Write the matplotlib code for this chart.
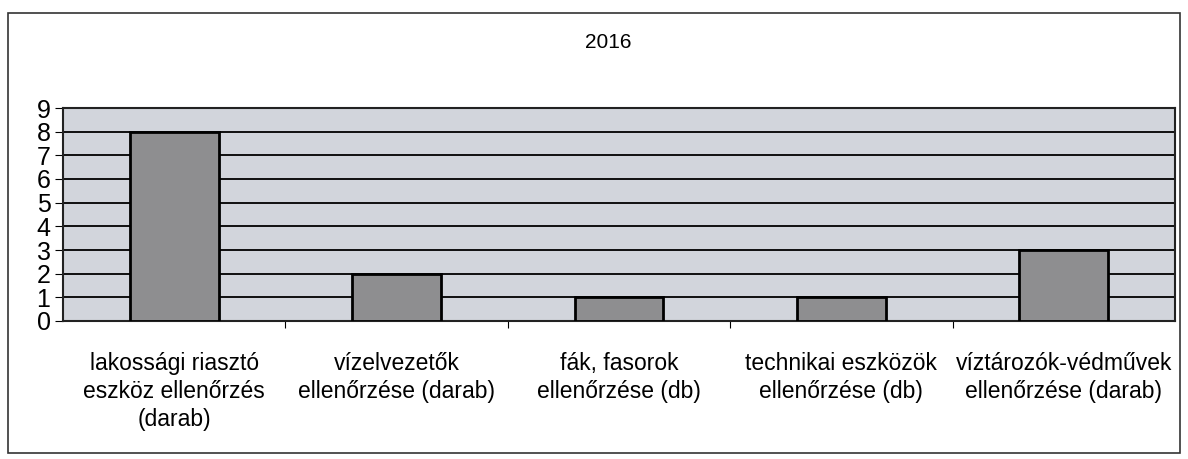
import matplotlib.pyplot as plt
from matplotlib.patches import Rectangle

categories = ["lakossági riasztó\neszköz ellenőrzés\n(darab)",
              "vízelvezetők\nellenőrzése (darab)",
              "fák, fasorok\nellenőrzése (db)",
              "technikai eszközök\nellenőrzése (db)",
              "víztározók-védművek\nellenőrzése (darab)"]
values = [8, 2, 1, 1, 3]
yticks = list(range(0, 10))
title = "2016"

plt.rcParams['font.family'] = ['Liberation Sans', 'DejaVu Sans']

fig = plt.figure(figsize=(11.88, 4.59), dpi=100)
# outer chart border
fig.patches.append(Rectangle((8/1188, 1-453/459), 1172/1188, 440/459,
                             transform=fig.transFigure, fill=False,
                             edgecolor='#333333', linewidth=1.2))

ax = fig.add_axes([63/1188, 1-321/459, (1175-63)/1188, (321-108)/459])
ax.set_facecolor('#d2d5dc')
x = list(range(len(values)))
ax.bar(x, values, width=0.4, color='#8e8e90', edgecolor='black', linewidth=2, zorder=3)

ax.set_xlim(-0.5, len(values)-0.5)
ax.set_ylim(0, 9)
ax.set_yticks(yticks)
ax.set_yticklabels([str(v) for v in yticks], fontsize=18)
ax.yaxis.grid(True, color='black', linewidth=1.3, zorder=1)
ax.set_axisbelow(True)

# category ticks sit between groups
ax.set_xticks([i + 0.5 for i in x[:-1]])
ax.set_xticklabels([])
ax.set_xticks(x, minor=True)
ax.set_xticklabels(categories, minor=True, fontsize=16.5, linespacing=1.3)
ax.tick_params(axis='x', which='minor', length=0, pad=22)
ax.tick_params(axis='x', which='major', length=5, direction='out')
ax.tick_params(axis='y', length=6, direction='out', pad=3)

for s in ax.spines.values():
    s.set_linewidth(1.5)
    s.set_color('#222222')

fig.text(608/1188, 1-42/459, title, ha='center', va='center', fontsize=15)

plt.savefig("out.png", dpi=100)
